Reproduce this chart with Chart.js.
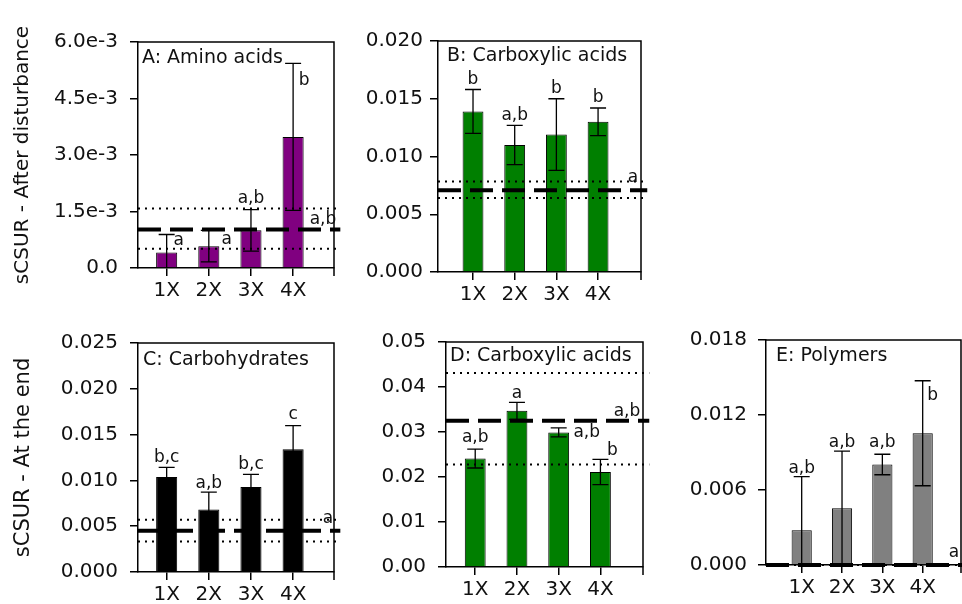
<!DOCTYPE html>
<html>
<head>
<meta charset="utf-8">
<title>sCSUR panels</title>
<script src="https://cdn.jsdelivr.net/npm/chart.js@4.4.1/dist/chart.umd.min.js"></script>
<style>
  html, body { margin: 0; padding: 0; background: #fff; }
  body { width: 962px; height: 604px; position: relative; overflow: hidden; }
  .panel { position: absolute; }
</style>
</head>
<body>
<script>
// data

const doses = ['1X', '2X', '3X', '4X'];
const doseX = [1, 2, 3, 4];

const rowTitles = ['sCSUR - After disturbance', 'sCSUR - At the end'];
const panelTitles = ['A: Amino acids', 'B: Carboxylic acids', 'C: Carbohydrates', 'D: Carboxylic acids', 'E: Polymers'];

// A: amino acids, after disturbance
const aminoMean = [0.00041, 0.00058, 0.00100, 0.00348];
const aminoErr = [0.00048, 0.00042, 0.00055, 0.00195];
const aminoLetters = ['a', 'a', 'a,b', 'b'];
const aminoCtrl = [0.00102, 0.00158, 0.00051]; // mean, upper, lower
const aminoCtrlLetter = 'a,b';

// B: carboxylic acids, after disturbance
const carbAfterMean = [0.0139, 0.0110, 0.0119, 0.0130];
const carbAfterErr = [0.0019, 0.0017, 0.0031, 0.0012];
const carbAfterLetters = ['b', 'a,b', 'b', 'b'];
const carbAfterCtrl = [0.00707, 0.00783, 0.00641];
const carbAfterCtrlLetter = 'a';

// C: carbohydrates, at the end
const hydrMean = [0.01038, 0.00682, 0.00927, 0.01339];
const hydrErr = [0.00105, 0.00189, 0.00139, 0.00259];
const hydrLetters = ['b,c', 'a,b', 'b,c', 'c'];
const hydrCtrl = [0.00451, 0.00570, 0.00332];
const hydrCtrlLetter = 'a';

// D: carboxylic acids, at the end
const carbEndMean = [0.0241, 0.0347, 0.0299, 0.0211];
const carbEndErr = [0.0021, 0.0019, 0.0010, 0.0028];
const carbEndLetters = ['a,b', 'a', 'a,b', 'b'];
const carbEndCtrl = [0.0325, 0.0431, 0.0228];
const carbEndCtrlLetter = 'a,b';

// E: polymers, at the end
const polyMean = [0.00278, 0.00454, 0.00804, 0.01054];
const polyErr = [0.00429, 0.00457, 0.00082, 0.00420];
const polyLetters = ['a,b', 'a,b', 'a,b', 'b'];
const polyCtrl = [0, 0, 0];
const polyCtrlLetter = 'a';


const FONT = 'DejaVu Sans';
const TXT = '#111';
const PAD_TOP = 14;
const X_H = 40;

// error bars, letters, panel title and the box frame
function makeExtras(p) {
  return {
    id: 'extras',
    afterDatasetsDraw(chart) {
      const ctx = chart.ctx;
      const a = chart.chartArea;
      const x = chart.scales.x;
      const y = chart.scales.y;
      ctx.save();

      // top and right side of the box, plus the tick at the right end
      ctx.strokeStyle = '#000';
      ctx.lineWidth = 1.5;
      ctx.beginPath();
      ctx.moveTo(a.left, a.top);
      ctx.lineTo(a.right, a.top);
      ctx.lineTo(a.right, a.bottom + 8);
      ctx.stroke();

      ctx.lineWidth = 1.3;
      ctx.font = '17px "' + FONT + '"';
      ctx.fillStyle = TXT;
      ctx.textAlign = 'center';
      ctx.textBaseline = 'middle';
      p.mean.forEach(function(m, i) {
        const px = x.getPixelForValue(doseX[i]);
        const hi = y.getPixelForValue(m + p.err[i]);
        const lo = y.getPixelForValue(Math.max(0, m - p.err[i]));
        ctx.beginPath();
        ctx.moveTo(px, hi); ctx.lineTo(px, lo);
        ctx.moveTo(px - 8, hi); ctx.lineTo(px + 8, hi);
        if (m - p.err[i] > 0) { ctx.moveTo(px - 8, lo); ctx.lineTo(px + 8, lo); }
        ctx.stroke();
        const off = p.letterOff[i] || [0, -10];
        ctx.fillText(p.letters[i], px + off[0], hi + off[1]);
      });

      // control letter, near the right end of the dashed line
      ctx.fillText(p.ctrlLetter, a.right + p.ctrlOff[0], y.getPixelForValue(p.ctrl[0]) + p.ctrlOff[1]);

      // panel title
      ctx.font = '19px "' + FONT + '"';
      ctx.textAlign = 'left';
      ctx.fillText(p.title, a.left + p.titleOff[0], a.top + p.titleOff[1]);
      ctx.restore();
    }
  };
}

function refLine(v, dashed, xr) {
  return {
    type: 'line',
    data: [{x: xr[0], y: v}, {x: xr[1] + 0.15, y: v}],
    borderColor: '#000',
    borderWidth: dashed ? 4 : 2,
    borderDash: dashed ? [23, 9] : [2, 5],
    borderCapStyle: 'butt',
    pointRadius: 0,
    clip: false,
    order: 1
  };
}

function makePanel(p) {
  const L = p.box[0], T = p.box[1], R = p.box[2], B = p.box[3];
  const div = document.createElement('div');
  div.className = 'panel';
  div.style.left = p.left + 'px';
  div.style.top = (T - PAD_TOP) + 'px';
  div.style.width = (R - p.left + p.padRight) + 'px';
  div.style.height = (PAD_TOP + (B - T) + X_H) + 'px';
  const cv = document.createElement('canvas');
  div.appendChild(cv);
  document.body.appendChild(div);

  const yW = L - p.left;
  const axisLine = { display: true, drawOnChartArea: false, drawTicks: true, tickLength: 8, color: '#000', lineWidth: 1.5, offset: false };

  new Chart(cv, {
    type: 'bar',
    data: {
      datasets: [
        {
          type: 'bar',
          data: doseX.map(function(v, i) { return {x: v, y: p.mean[i]}; }),
          backgroundColor: p.color,
          borderColor: '#000',
          borderWidth: 1,
          barPercentage: 0.5,
          categoryPercentage: 1,
          order: 2
        },
        refLine(p.ctrl[1], false, p.xr),
        refLine(p.ctrl[2], false, p.xr),
        refLine(p.ctrl[0], true, p.xr)
      ]
    },
    options: {
      responsive: true,
      maintainAspectRatio: false,
      animation: false,
      layout: { padding: { top: PAD_TOP, right: p.padRight, left: 0, bottom: 0 } },
      plugins: { legend: { display: false }, tooltip: { enabled: false } },
      scales: {
        x: {
          type: 'linear',
          min: p.xr[0],
          max: p.xr[1],
          offset: false,
          afterBuildTicks: function(s) { s.ticks = doseX.map(function(v) { return {value: v}; }); },
          afterFit: function(s) { s.height = X_H; },
          ticks: {
            callback: function(v) { return doses[doseX.indexOf(v)]; },
            autoSkip: false, maxRotation: 0, padding: 3,
            color: TXT, font: { family: FONT, size: 20 }
          },
          grid: axisLine,
          border: { display: true, color: '#000', width: 1.5 }
        },
        y: {
          min: 0,
          max: p.ymax,
          afterFit: function(s) { s.width = yW; },
          ticks: {
            stepSize: p.step,
            callback: p.fmt,
            padding: p.tickPad,
            color: TXT, font: { family: FONT, size: 20 }
          },
          grid: axisLine,
          border: { display: true, color: '#000', width: 1.5 },
          title: {
            display: !!p.ytitle,
            text: p.ytitle || '',
            color: TXT,
            font: { family: FONT, size: p.ytitleSize || 20 },
            padding: { top: 11, bottom: 0 }
          }
        }
      }
    },
    plugins: [makeExtras(p)]
  });
}

function fixed(n) { return function(v) { return v.toFixed(n); }; }

makePanel({
  box: [138, 32, 334, 268], left: 0, padRight: 12, xr: [0.32, 4.97],
  ymax: 0.006, step: 0.0015, tickPad: 12,
  fmt: function(v) { return v === 0 ? '0.0' : (v * 1000).toFixed(1) + 'e-3'; },
  color: '#800080', ytitle: rowTitles[0], ytitleSize: 20,
  mean: aminoMean, err: aminoErr, letters: aminoLetters, ctrl: aminoCtrl, ctrlLetter: aminoCtrlLetter,
  letterOff: [[12, 6], [18, 9], [0, -11], [11, 17]], ctrlOff: [-11, -10],
  title: panelTitles[0], titleOff: [4, 16]
});

makePanel({
  box: [438, 36, 641, 272], left: 360, padRight: 12, xr: [0.16, 5.03],
  ymax: 0.020, step: 0.005, tickPad: 7, fmt: fixed(3),
  color: '#007f00',
  mean: carbAfterMean, err: carbAfterErr, letters: carbAfterLetters, ctrl: carbAfterCtrl, ctrlLetter: carbAfterCtrlLetter,
  letterOff: [], ctrlOff: [-8, -13],
  title: panelTitles[1], titleOff: [9, 15]
});

makePanel({
  box: [138, 333, 334, 572], left: 0, padRight: 12, xr: [0.32, 4.97],
  ymax: 0.025, step: 0.005, tickPad: 12, fmt: fixed(3),
  color: '#000000', ytitle: rowTitles[1], ytitleSize: 21,
  mean: hydrMean, err: hydrErr, letters: hydrLetters, ctrl: hydrCtrl, ctrlLetter: hydrCtrlLetter,
  letterOff: [[0, -10], [0, -9], [0, -10], [0, -11]], ctrlOff: [-6, -12],
  title: panelTitles[2], titleOff: [5, 17]
});

makePanel({
  box: [446, 332, 643, 567], left: 360, padRight: 12, xr: [0.30, 5.02],
  ymax: 0.05, step: 0.01, tickPad: 12, fmt: fixed(2),
  color: '#007f00',
  mean: carbEndMean, err: carbEndErr, letters: carbEndLetters, ctrl: carbEndCtrl, ctrlLetter: carbEndCtrlLetter,
  letterOff: [[0, -12], [0, -9], [28, 5], [12, -9]], ctrlOff: [-16, -9],
  title: panelTitles[3], titleOff: [4, 14]
});

makePanel({
  box: [766, 331, 961, 565], left: 680, padRight: 1, xr: [0.115, 4.95],
  ymax: 0.018, step: 0.006, tickPad: 11, fmt: fixed(3),
  color: '#808080',
  mean: polyMean, err: polyErr, letters: polyLetters, ctrl: polyCtrl, ctrlLetter: polyCtrlLetter,
  letterOff: [[0, -8], [0, -9], [0, -12], [10, 15]], ctrlOff: [-7, -12],
  title: panelTitles[4], titleOff: [10, 16]
});
</script>
</body>
</html>
